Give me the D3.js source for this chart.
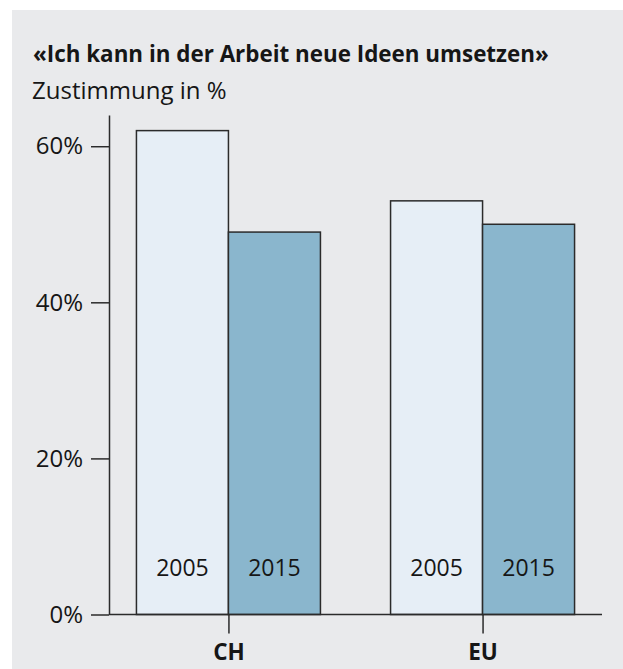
<!DOCTYPE html>
<html>
<head>
<meta charset="utf-8">
<script src="https://cdn.jsdelivr.net/npm/d3@7"></script>
<style>
  html, body { margin: 0; padding: 0; background: #ffffff; }
  svg { display: block; }
  text { font-family: "Open Sans", "Noto Sans", sans-serif; fill: #161616; }
</style>
</head>
<body>
<svg id="chart" width="623" height="669"></svg>
<script>
const titleText = "«Ich kann in der Arbeit neue Ideen umsetzen»";
const subtitleText = "Zustimmung in %";
const categories = ["CH", "EU"];
const years = ["2005", "2015"];
const values2005 = [62, 53];
const values2015 = [49, 50];
const yTicks = [0, 20, 40, 60];
const yTickLabels = ["0%", "20%", "40%", "60%"];

const colors = { "2005": "#e6eef6", "2015": "#8ab6cd" };
const stroke = "#2b2b2b";
const ff = '"Open Sans", "Noto Sans", sans-serif';

const svg = d3.select("#chart");
svg.append("rect").attr("x", 12).attr("y", 10).attr("width", 611).attr("height", 659).attr("fill", "#e9eaec");

svg.append("text").attr("x", 33).attr("y", 61.5)
  .attr("font-size", 22.4).attr("font-weight", 700).text(titleText);
svg.append("text").attr("x", 32).attr("y", 99)
  .attr("font-size", 24).text(subtitleText);

const y = d3.scaleLinear().domain([0, 64]).range([614.5, 115]);
const x = d3.scalePoint().domain(categories).range([109, 602]).padding(0.47);
const xi = d3.scaleBand().domain(years).range([-92, 92]).padding(0);

const data = [];
categories.forEach((c, i) => {
  data.push({ cat: c, year: "2005", v: values2005[i] });
  data.push({ cat: c, year: "2015", v: values2015[i] });
});

const bars = svg.append("g");
bars.selectAll("rect").data(data).join("rect")
  .attr("x", d => x(d.cat) + xi(d.year))
  .attr("y", d => y(d.v))
  .attr("width", xi.bandwidth())
  .attr("height", d => y(0) - y(d.v))
  .attr("fill", d => colors[d.year])
  .attr("stroke", stroke)
  .attr("stroke-width", 1.5);

bars.selectAll("text").data(data).join("text")
  .attr("x", d => x(d.cat) + xi(d.year) + xi.bandwidth() / 2)
  .attr("y", 576)
  .attr("text-anchor", "middle")
  .attr("font-size", 23)
  .text(d => d.year);

// y axis
const yAxis = d3.axisLeft(y).tickValues(yTicks)
  .tickFormat((d, i) => yTickLabels[i]).tickSize(18).tickSizeOuter(0).tickPadding(8);
const gy = svg.append("g").attr("transform", "translate(109,0)").call(yAxis);
gy.selectAll("path.domain").attr("stroke", stroke).attr("stroke-width", 1.5);
gy.selectAll(".tick line").attr("stroke", stroke).attr("stroke-width", 1.5);
gy.selectAll(".tick text").attr("font-size", 24).attr("fill", "#161616")
  .style("font-family", ff);

// x axis baseline and category ticks
const xAxis = d3.axisBottom(x).tickSize(19).tickSizeOuter(0).tickPadding(8);
const gx = svg.append("g").attr("transform", `translate(0,${y(0)})`).call(xAxis);
gx.select("path.domain").remove();
gx.append("line").attr("x1", 109).attr("x2", 602).attr("y1", 0).attr("y2", 0)
  .attr("stroke", stroke).attr("stroke-width", 1.5);
gx.selectAll(".tick line").attr("stroke", stroke).attr("stroke-width", 1.5);
gx.selectAll(".tick text").attr("font-size", 22.5).attr("font-weight", 700).attr("fill", "#161616")
  .attr("dy", null).attr("y", 45.5)
  .style("font-family", ff);
</script>
</body>
</html>
